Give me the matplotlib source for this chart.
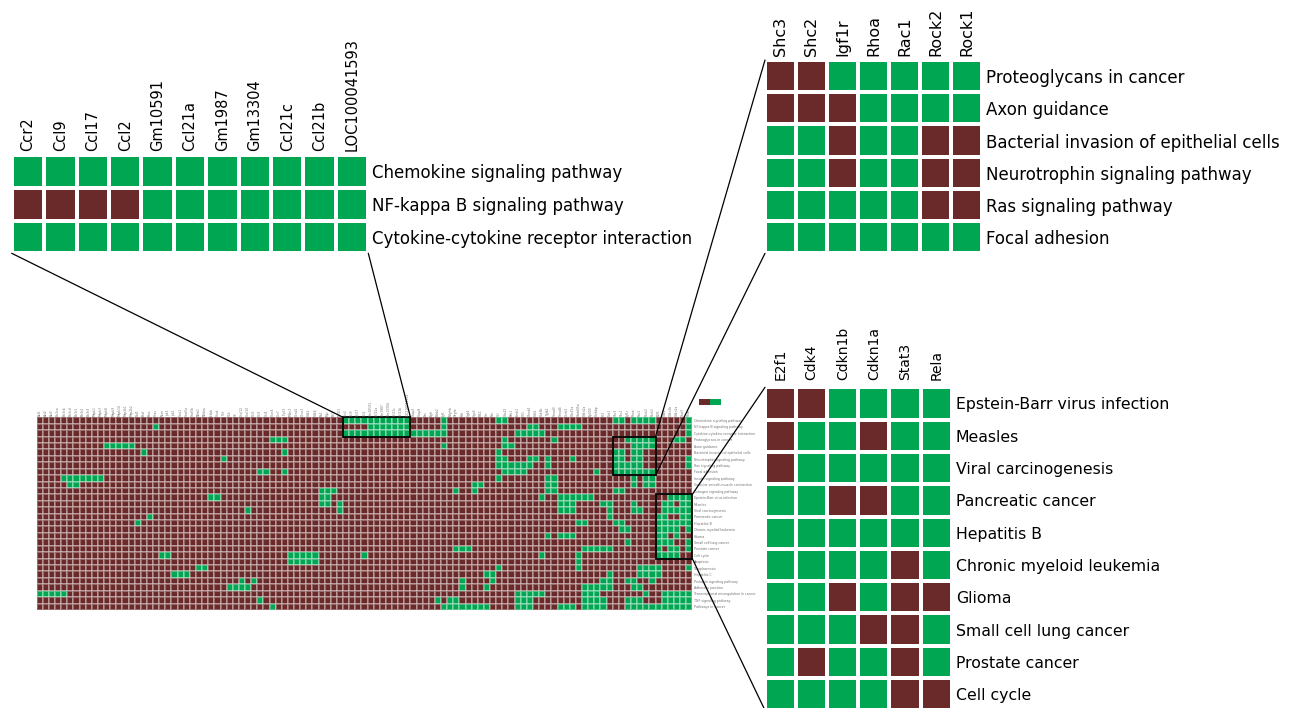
import numpy as np
import matplotlib.pyplot as plt
from matplotlib.colors import ListedColormap
from matplotlib.patches import Rectangle, ConnectionPatch

BROWN = '#6b2a2a'
GREEN = '#00a651'
cmap = ListedColormap([BROWN, GREEN])

W, H = 1292, 708

# ---- data ----
pathways = [
    'Chemokine signaling pathway', 'NF-kappa B signaling pathway',
    'Cytokine-cytokine receptor interaction', 'Proteoglycans in cancer',
    'Axon guidance', 'Bacterial invasion of epithelial cells',
    'Neurotrophin signaling pathway', 'Ras signaling pathway', 'Focal adhesion',
    'Insulin signaling pathway', 'Vascular smooth muscle contraction',
    'Estrogen signaling pathway', 'Epstein-Barr virus infection', 'Measles',
    'Viral carcinogenesis', 'Pancreatic cancer', 'Hepatitis B',
    'Chronic myeloid leukemia', 'Glioma', 'Small cell lung cancer',
    'Prostate cancer', 'Cell cycle', 'Apoptosis', 'Toxoplasmosis',
    'Hepatitis C', 'Prolactin signaling pathway', 'Adherens junction',
    'Transcriptional misregulation in cancer', 'TNF signaling pathway',
    'Pathways in cancer',
]

genes_left = [
    'Akt1', 'Akt2', 'Akt3', 'Pik3ca', 'Pik3cb', 'Pik3cd', 'Pik3r1', 'Pik3r2',
    'Pik3r3', 'Mapk1', 'Mapk3', 'Mapk8', 'Mapk9', 'Mapk14', 'Map2k1', 'Map2k2',
    'Raf1', 'Braf', 'Kras', 'Hras', 'Nras', 'Jak1', 'Jak2', 'Stat1', 'Stat5a',
    'Stat5b', 'Nfkb1', 'Nfkbia', 'Ikbkb', 'Chuk', 'Tnf', 'Il1b', 'Il6',
    'Cxcl12', 'Cxcl10', 'Ccl5', 'Ccl3', 'Ccl4', 'Cxcr4', 'Ccr7', 'Trp53',
    'Mdm2', 'Ccnd1', 'Ccne1', 'Cdk2', 'Cdk6', 'Rb1', 'Myc', 'Bcl2', 'Bcl2l1',
]
chemokine_genes = ['Ccr2', 'Ccl9', 'Ccl17', 'Ccl2', 'Gm10591', 'Ccl21a',
                   'Gm1987', 'Gm13304', 'Ccl21c', 'Ccl21b', 'LOC100041593']
genes_mid = [
    'Casp3', 'Casp8', 'Fas', 'Egfr', 'Erbb2', 'Igf1', 'Pdgfrb', 'Vegfa', 'Kdr',
    'Itgb1', 'Itga5', 'Ptk2', 'Src', 'Pxn', 'Vcl', 'Cdc42', 'Pak1', 'Limk1',
    'Cfl1', 'Ctnnb1', 'Cdh1', 'Gsk3b', 'Tgfb1', 'Smad3', 'Smad4', 'Ccnb1',
    'Cdc25a', 'Gadd45a', 'Cdkn2a', 'Ep300', 'Crebbp', 'Irf3', 'Sos1',
]
shc_genes = ['Shc3', 'Shc2', 'Igf1r', 'Rhoa', 'Rac1', 'Rock2', 'Rock1']
cycle_genes = ['E2f1', 'Cdk4', 'Cdkn1b', 'Cdkn1a', 'Stat3', 'Rela']
genes = genes_left + chemokine_genes + genes_mid + shc_genes + cycle_genes

# 1 = green, 0 = brown
chemokine_block = np.array([
    [1, 1, 1, 1, 1, 1, 1, 1, 1, 1, 1],
    [0, 0, 0, 0, 1, 1, 1, 1, 1, 1, 1],
    [1, 1, 1, 1, 1, 1, 1, 1, 1, 1, 1],
])
shc_block = np.array([
    [0, 0, 1, 1, 1, 1, 1],
    [0, 0, 0, 1, 1, 1, 1],
    [1, 1, 0, 1, 1, 0, 0],
    [1, 1, 0, 1, 1, 0, 0],
    [1, 1, 1, 1, 1, 0, 0],
    [1, 1, 1, 1, 1, 1, 1],
])
cycle_block = np.array([
    [0, 0, 1, 1, 1, 1],
    [0, 1, 1, 0, 1, 1],
    [0, 1, 1, 1, 1, 1],
    [1, 1, 0, 0, 1, 1],
    [1, 1, 1, 1, 1, 1],
    [1, 1, 1, 1, 0, 1],
    [1, 1, 0, 1, 0, 0],
    [1, 1, 1, 0, 0, 1],
    [1, 0, 1, 1, 0, 1],
    [1, 1, 1, 1, 0, 0],
])

# green cells of the overview heatmap, per pathway row: (first gene, last gene)
green_spans = [
    [(66, 66), (75, 76), (94, 95), (97, 100), (106, 106)],
    [(19, 19), (66, 66), (80, 81), (85, 88), (106, 106)],
    [(61, 66), (78, 82), (106, 106)],
    [(38, 40), (76, 76), (84, 84), (104, 105)],
    [(11, 15), (66, 66), (76, 77)],
    [(17, 17), (40, 40), (75, 75)],
    [(30, 30), (75, 76), (80, 81), (83, 83), (87, 87), (106, 106)],
    [(75, 80), (83, 83), (106, 106)],
    [(36, 37), (40, 40), (76, 79), (91, 91)],
    [(4, 10), (75, 75), (83, 84), (97, 97), (99, 100)],
    [(5, 6), (71, 72), (83, 84), (97, 97), (99, 100)],
    [(46, 48), (68, 68), (71, 71), (83, 84), (94, 95)],
    [(28, 29), (46, 47), (82, 82), (85, 90)],
    [(46, 47), (49, 49), (85, 87), (92, 93), (97, 97)],
    [(34, 34), (49, 49), (85, 87), (93, 93), (97, 98)],
    [(18, 18), (93, 93)],
    [(16, 16), (88, 89), (94, 95)],
    [(95, 96)],
    [(83, 83), (85, 87)],
    [(96, 96)],
    [(68, 70), (89, 93)],
    [(20, 21), (41, 45), (53, 53), (82, 82), (88, 88)],
    [(41, 45), (88, 88)],
    [(26, 27), (75, 75), (88, 88), (98, 101), (106, 106)],
    [(22, 24), (73, 74), (93, 93), (98, 101)],
    [(33, 33), (35, 35), (69, 69), (74, 74), (92, 93), (96, 97), (100, 100)],
    [(31, 34), (69, 69), (73, 73), (89, 93), (97, 98)],
    [(0, 4), (78, 82), (89, 91), (99, 99), (102, 106)],
    [(36, 36), (65, 65), (67, 68), (78, 80), (89, 92), (96, 98), (102, 106)],
    [(38, 38), (66, 73), (78, 80), (85, 87), (89, 92), (96, 106)],
]

n_rows, n_cols = len(pathways), len(genes)
status = np.zeros((n_rows, n_cols))
for r, spans in enumerate(green_spans):
    for a, b in spans:
        status[r, a:b + 1] = 1

c_chem = genes.index('Ccr2')
c_shc = genes.index('Shc3')
c_cyc = genes.index('E2f1')
r_chem = pathways.index('Chemokine signaling pathway')
r_shc = pathways.index('Proteoglycans in cancer')
r_cyc = pathways.index('Epstein-Barr virus infection')
status[r_chem:r_chem + 3, c_chem:c_chem + 11] = chemokine_block
status[r_shc:r_shc + 6, c_shc:c_shc + 7] = shc_block
status[r_cyc:r_cyc + 10, c_cyc:c_cyc + 6] = cycle_block


def px_axes(fig, x0, y0, x1, y1):
    return fig.add_axes([x0 / W, 1 - y1 / H, (x1 - x0) / W, (y1 - y0) / H])


def heat(a, data, col_labels, row_labels, lw, col_fs, row_fs, color='black',
         pad=3, xpad=None, edge='white'):
    a.pcolormesh(data, cmap=cmap, vmin=0, vmax=1, edgecolors=edge, linewidth=lw)
    a.set_xlim(0, data.shape[1])
    a.set_ylim(data.shape[0], 0)
    a.set_xticks(np.arange(data.shape[1]) + 0.5)
    a.set_xticklabels(col_labels, rotation=90, fontsize=col_fs, color=color)
    a.set_yticks(np.arange(data.shape[0]) + 0.5)
    a.set_yticklabels(row_labels, fontsize=row_fs, color=color)
    a.xaxis.tick_top()
    a.yaxis.tick_right()
    a.tick_params(axis='y', length=0, pad=pad)
    a.tick_params(axis='x', length=0, pad=pad if xpad is None else xpad)
    for s in a.spines.values():
        s.set_visible(False)


fig = plt.figure(figsize=(W / 100, H / 100), dpi=100)

# overview heatmap
ax = px_axes(fig, 36.7, 417.3, 692.3, 610)
heat(ax, status, genes, pathways, 0.25, 2.2, 2.3, color='0.45', pad=1,
     edge=(1, 1, 1, 0.3))

boxes = [(c_chem, r_chem, 11, 3), (c_shc, r_shc, 7, 6), (c_cyc, r_cyc, 6, 10)]
for x, y, w, h in boxes:
    ax.add_patch(Rectangle((x, y), w, h, fill=False, ec='black', lw=1.3, clip_on=False))

# small colour key
key = px_axes(fig, 699, 399, 721, 405)
key.pcolormesh(np.array([[0, 1]]), cmap=cmap, vmin=0, vmax=1)
key.set_axis_off()

# zoomed panels
ax_chem = px_axes(fig, 11.7, 155, 368.3, 253.3)
heat(ax_chem, chemokine_block, chemokine_genes, pathways[r_chem:r_chem + 3],
     1.6, 10.5, 12)

ax_shc = px_axes(fig, 765, 60, 982.3, 253.3)
heat(ax_shc, shc_block, shc_genes, pathways[r_shc:r_shc + 6], 1.6, 11.5, 12)

ax_cyc = px_axes(fig, 765, 387.3, 951.7, 710.3)
heat(ax_cyc, cycle_block, cycle_genes, pathways[r_cyc:r_cyc + 10], 1.6, 10,
     11.3, xpad=5)

# connector lines
links = [
    (ax_chem, (0, 0), (c_chem, r_chem)),
    (ax_chem, (1, 0), (c_chem + 11, r_chem)),
    (ax_shc, (0, 1), (c_shc + 7, r_shc)),
    (ax_shc, (0, 0), (c_shc + 7, r_shc + 6)),
    (ax_cyc, (0, 1), (c_cyc + 6, r_cyc)),
    (ax_cyc, (0, 0), (c_cyc + 6, r_cyc + 10)),
]
for a, corner, target in links:
    con = ConnectionPatch(xyA=corner, coordsA='axes fraction', axesA=a,
                          xyB=target, coordsB='data', axesB=ax,
                          color='black', lw=0.9)
    fig.add_artist(con)

fig.savefig('out.png', dpi=100, facecolor='white')
